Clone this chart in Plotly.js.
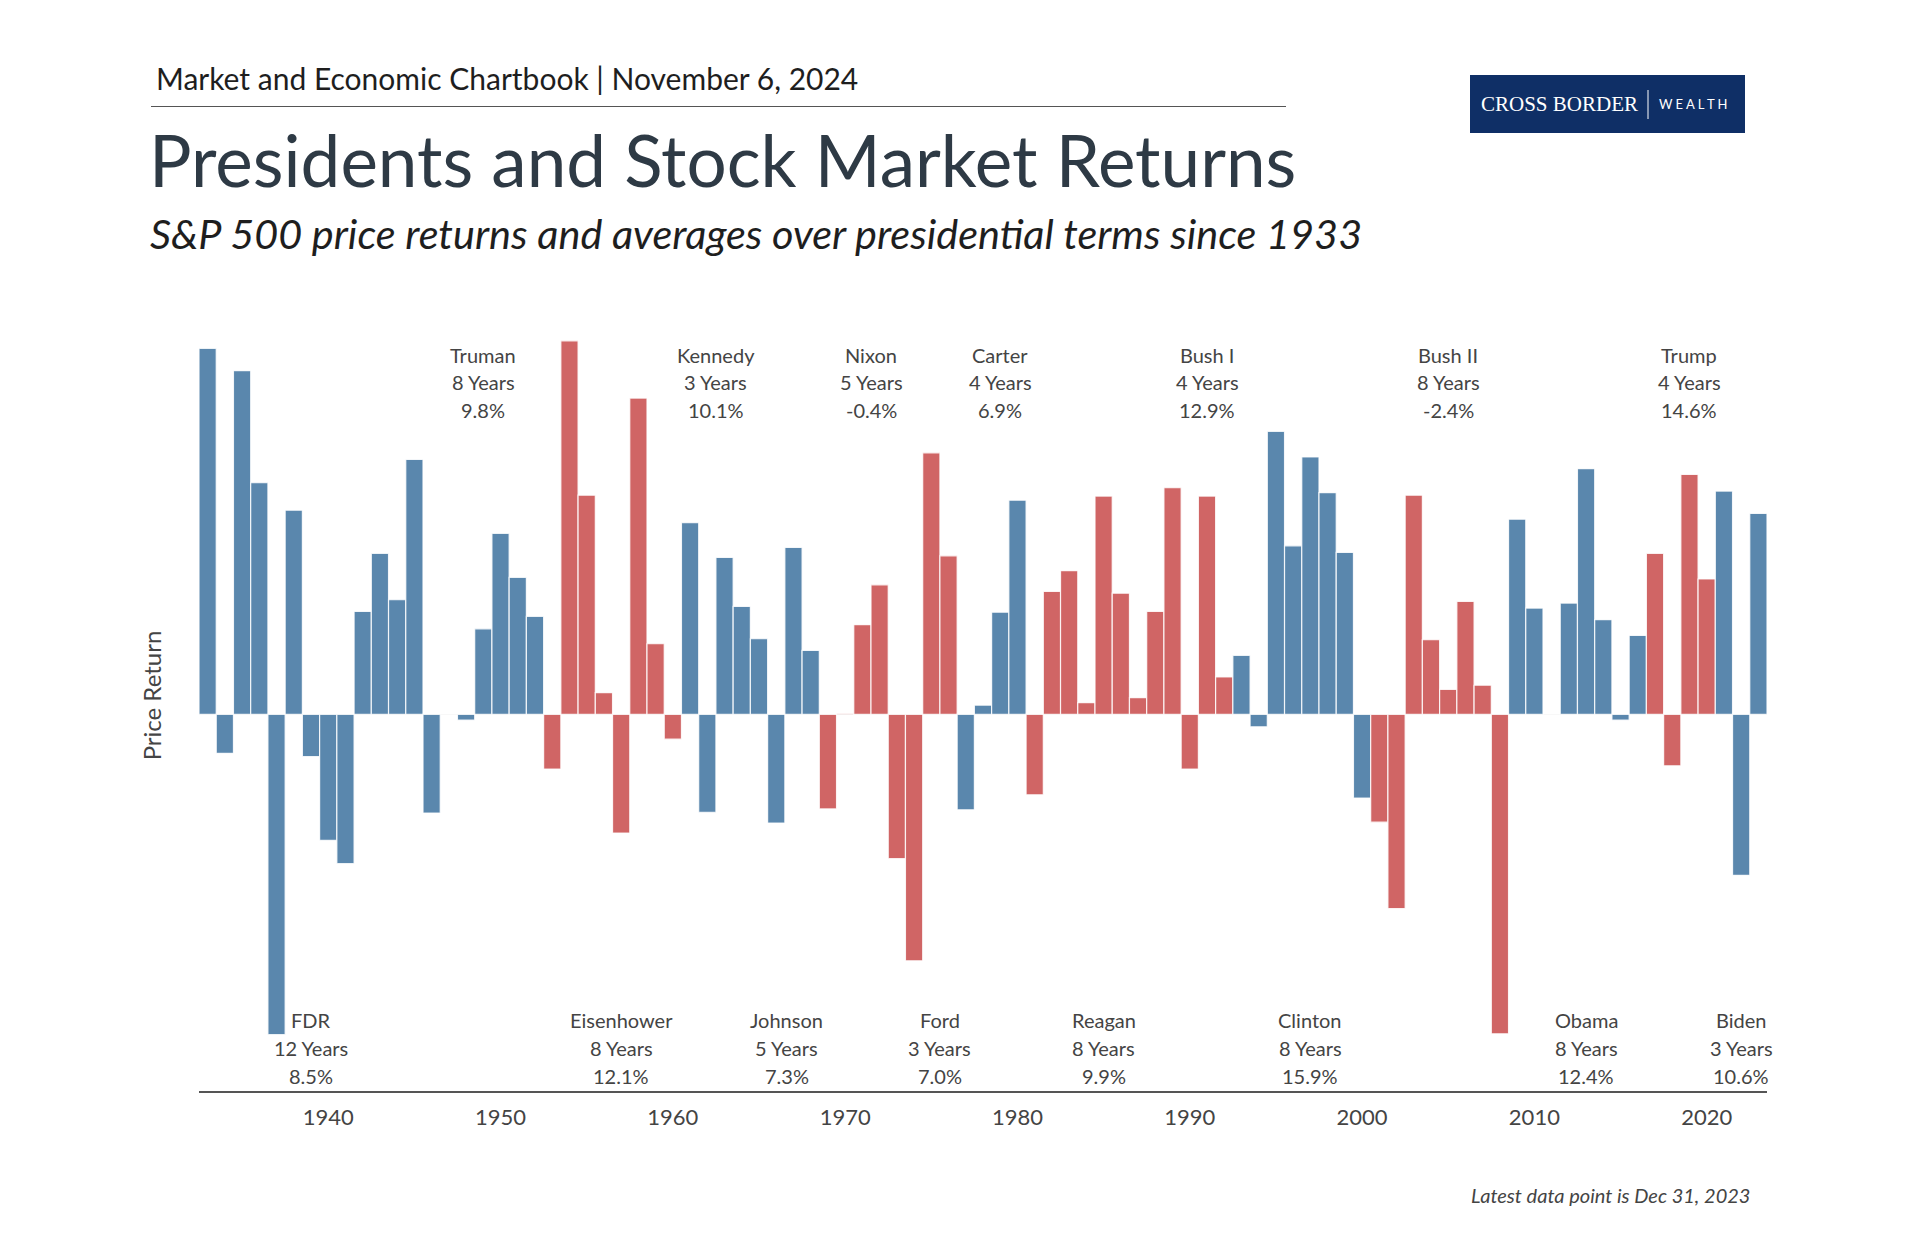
<!DOCTYPE html>
<html>
<head>
<meta charset="utf-8">
<script src="https://cdn.plot.ly/plotly-3.0.1.min.js"></script>
<style>
  html, body { margin: 0; padding: 0; background: #ffffff; }
  #chart { width: 1920px; height: 1240px; }
</style>
</head>
<body>
<div id="chart"></div>
<script>
// ---------------- DATA ----------------
const years = [1933,1934,1935,1936,1937,1938,1939,1940,1941,1942,1943,1944,1945,1946,1947,1948,1949,1950,
  1951,1952,1953,1954,1955,1956,1957,1958,1959,1960,1961,1962,1963,1964,1965,1966,1967,1968,1969,1970,
  1971,1972,1973,1974,1975,1976,1977,1978,1979,1980,1981,1982,1983,1984,1985,1986,1987,1988,1989,1990,
  1991,1992,1993,1994,1995,1996,1997,1998,1999,2000,2001,2002,2003,2004,2005,2006,2007,2008,2009,2010,
  2011,2012,2013,2014,2015,2016,2017,2018,2019,2020,2021,2022,2023];

const priceReturn = [44.1,-4.7,41.4,27.9,-38.6,24.6,-5.1,-15.2,-18.0,12.4,19.4,13.8,30.7,-11.9,0.0,-0.7,10.3,21.8,
  16.5,11.8,-6.6,45.0,26.4,2.6,-14.3,38.1,8.5,-3.0,23.1,-11.8,18.9,13.0,9.1,-13.1,20.1,7.7,-11.4,0.1,
  10.8,15.6,-17.4,-29.7,31.5,19.1,-11.5,1.1,12.3,25.8,-9.7,14.8,17.3,1.4,26.3,14.6,2.0,12.4,27.3,-6.6,
  26.3,4.5,7.1,-1.5,34.1,20.3,31.0,26.7,19.5,-10.1,-13.0,-23.4,26.4,9.0,3.0,13.6,3.5,-38.5,23.5,12.8,
  0.0,13.4,29.6,11.4,-0.7,9.5,19.4,-6.2,28.9,16.3,26.9,-19.4,24.2];

const presNames   = ["FDR","Truman","Eisenhower","Kennedy","Johnson","Nixon","Ford","Carter","Reagan","Bush I","Clinton","Bush II","Obama","Trump","Biden"];
const presParty   = ["D","D","R","D","D","R","R","D","R","R","D","R","D","R","D"];
const presStart   = [1933,1945,1953,1961,1964,1969,1974,1977,1981,1989,1993,2001,2009,2017,2021];
const presEnd     = [1944,1952,1960,1963,1968,1973,1976,1980,1988,1992,2000,2008,2016,2020,2023];
const presYears   = [12,8,8,3,5,5,3,4,8,4,8,8,8,4,3];
const presAvg     = ["8.5%","9.8%","12.1%","10.1%","7.3%","-0.4%","7.0%","6.9%","9.9%","12.9%","15.9%","-2.4%","12.4%","14.6%","10.6%"];
const presLabelX  = [1939,1949,1957,1962.5,1966.6,1971.5,1975.5,1979,1985,1991,1997,2005,2013,2019,2022];
const presSide    = ["bottom","top","bottom","top","bottom","top","bottom","top","bottom","top","bottom","top","bottom","top","bottom"];

const xTicks = [1940,1950,1960,1970,1980,1990,2000,2010,2020];

// ---------------- STYLE ----------------
const BLUE = "#5a87ad";
const RED  = "#d06565";
const FONT = "Lato, 'Noto Sans', sans-serif";
const W = 1920, H = 1240;
const M = {l: 199, r: 153, t: 300, b: 149};
const plotW = W - M.l - M.r, plotH = H - M.t - M.b;
const px = x => (x - M.l) / plotW;
const py = y => (H - M.b - y) / plotH;
const LINE_STEP = 27.6;

const colors = years.map(y => {
  const i = presStart.findIndex((s, k) => y >= s && y <= presEnd[k]);
  return presParty[i] === "D" ? BLUE : RED;
});

const bars = {
  type: "bar",
  x: years,
  y: priceReturn,
  marker: { color: colors, line: { color: "rgba(255,255,255,0.85)", width: 1.2 } },
  hovertemplate: "%{x}: %{y:.1f}%<extra></extra>"
};

const annotations = [];
presNames.forEach((n, i) => {
  const lines = [n, presYears[i] + " Years", presAvg[i]];
  lines.forEach((t, j) => {
    annotations.push({
      xref: "x", yref: "y",
      x: presLabelX[i],
      y: presSide[i] === "top" ? 40.0 : -40.2,
      yshift: (1 - j) * LINE_STEP,
      text: t,
      showarrow: false,
      xanchor: "center", yanchor: "middle",
      font: { family: FONT, size: 20, color: "#444444" }
    });
  });
});

annotations.push(
  { xref: "paper", yref: "paper", x: px(154), y: py(78), xanchor: "left", yanchor: "middle",
    text: "Market and Economic Chartbook | November 6, 2024", showarrow: false,
    font: { family: FONT, size: 30, color: "#1e1e1e" } },
  { xref: "paper", yref: "paper", x: px(147), y: py(159), xanchor: "left", yanchor: "middle",
    text: "Presidents and Stock Market Returns", showarrow: false,
    font: { family: FONT, size: 71, color: "#2e3a45" } },
  { xref: "paper", yref: "paper", x: px(148), y: py(233), xanchor: "left", yanchor: "middle",
    text: "S&P 500 price returns and averages over presidential terms since 1933", showarrow: false,
    font: { family: FONT, size: 41.4, color: "#1e1e1e", style: "italic" } },
  { xref: "paper", yref: "paper", x: px(1752), y: py(1195), xanchor: "right", yanchor: "middle",
    text: "Latest data point is Dec 31, 2023", showarrow: false,
    font: { family: FONT, size: 20, color: "#444444", style: "italic" } },
  { xref: "paper", yref: "paper", x: px(1640), y: py(104), xanchor: "right", yanchor: "middle",
    text: "CROSS BORDER", showarrow: false,
    font: { family: "'Liberation Serif', 'DejaVu Serif', serif", size: 21, color: "#ffffff" } },
  { xref: "paper", yref: "paper", x: px(1657), y: py(104), xanchor: "left", yanchor: "middle",
    text: "W E A L T H", showarrow: false,
    font: { family: FONT, size: 13, color: "#ffffff" } }
);

const shapes = [
  { type: "line", xref: "paper", yref: "paper", x0: px(151), x1: px(1286), y0: py(106.5), y1: py(106.5),
    line: { color: "#555555", width: 1 } },
  { type: "rect", xref: "paper", yref: "paper", x0: px(1470), x1: px(1745), y0: py(75), y1: py(133),
    fillcolor: "#0f2f66", line: { width: 0 } },
  { type: "line", xref: "paper", yref: "paper", x0: px(1648), x1: px(1648), y0: py(90), y1: py(119),
    line: { color: "#ffffff", width: 1 } }
];

const layout = {
  width: W, height: H,
  margin: M,
  paper_bgcolor: "#ffffff", plot_bgcolor: "#ffffff",
  bargap: 0,
  showlegend: false,
  font: { family: FONT },
  xaxis: {
    range: [1932.5, 2023.5],
    tickvals: xTicks,
    ticktext: xTicks.map(String),
    showgrid: false, zeroline: false,
    showline: true, linecolor: "#555555", linewidth: 2,
    ticks: "", ticklabelstandoff: 6,
    tickfont: { family: FONT, size: 22, color: "#444444" }
  },
  yaxis: {
    range: [-45.39, 49.92],
    showgrid: false, showticklabels: false, ticks: "",
    zeroline: true, zerolinecolor: "#cccccc", zerolinewidth: 1,
    title: { text: "Price Return", standoff: 29, font: { family: FONT, size: 24, color: "#444444" } }
  },
  annotations: annotations,
  shapes: shapes
};

Plotly.newPlot("chart", [bars], layout, { displayModeBar: false, staticPlot: true });
</script>
</body>
</html>
